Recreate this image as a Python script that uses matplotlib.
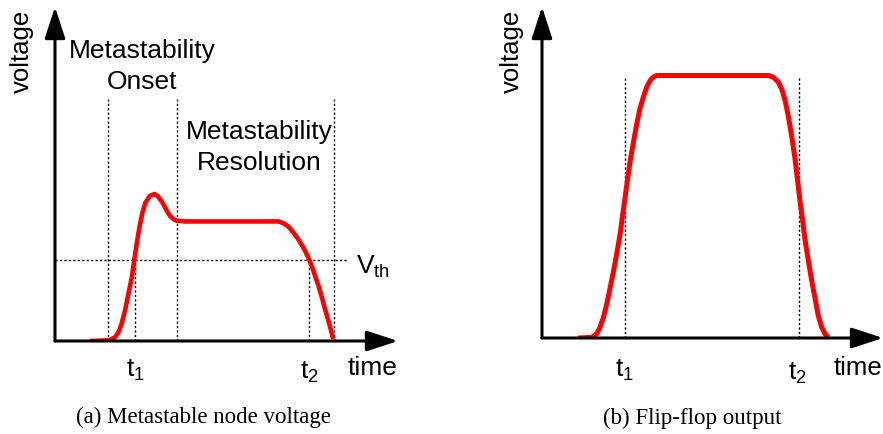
import matplotlib
matplotlib.use("Agg")
import matplotlib.pyplot as plt

# ---------------- data ----------------
# (a) metastable node voltage
left_t = [1.02, 1.60, 1.65, 1.75, 1.85, 1.94, 2.04, 2.14, 2.24, 2.31, 2.38, 2.46,
          2.55, 2.64, 2.77, 2.90, 3.01, 3.13, 3.26, 3.35, 3.45, 3.55, 3.79,
          6.27, 6.51, 6.66, 6.80, 6.95, 7.09, 7.24, 7.38, 7.48, 7.58, 7.68, 7.78,
          7.87, 7.97, 8.05, 8.11]
left_v = [0.00, 0.02, 0.06, 0.11, 0.26, 0.51, 0.91, 1.41, 1.91, 2.41, 2.90, 3.40,
          3.85, 4.15, 4.35, 4.40, 4.32, 4.15, 3.90, 3.75, 3.65, 3.60, 3.58,
          3.58, 3.58, 3.53, 3.43, 3.25, 3.05, 2.80, 2.51, 2.26, 1.96, 1.66, 1.31,
          0.96, 0.61, 0.31, 0.06]
left_regions = [1.55, 3.56, 8.12]      # onset start, onset end / resolution start, resolution end
left_region_top = 7.25
left_t1, left_t2 = 2.33, 7.41
vth = 2.43
vth_end = 8.54

# (b) flip-flop output
right_t = [1.06, 1.46, 1.60, 1.70, 1.80, 1.90, 1.99, 2.09, 2.19, 2.29, 2.35, 2.43,
           2.51, 2.58, 2.68, 2.78, 2.87, 2.97, 3.07, 3.17, 3.26, 3.36, 3.61,
           6.39, 6.64, 6.78, 6.93, 7.03, 7.13, 7.22, 7.32, 7.42, 7.49, 7.57, 7.65,
           7.71, 7.81, 7.91, 8.01, 8.10, 8.20, 8.30, 8.40]
right_v = [0.00, 0.02, 0.12, 0.32, 0.62, 1.03, 1.48, 1.98, 2.54, 3.14, 3.60, 4.20,
           4.80, 5.31, 5.91, 6.47, 6.92, 7.27, 7.58, 7.78, 7.88, 7.93, 7.93,
           7.93, 7.93, 7.88, 7.73, 7.52, 7.17, 6.72, 6.11, 5.41, 4.80, 4.10, 3.50,
           2.99, 2.34, 1.73, 1.18, 0.68, 0.33, 0.12, 0.02]
right_t1, right_t2 = 2.42, 7.55
right_marker_top = 7.85

# ---------------- drawing ----------------
W, H = 883, 435
fig = plt.figure(figsize=(W / 100, H / 100), dpi=100)

SANS = "Liberation Sans"
SERIF = "Liberation Serif"
plt.rcParams["font.family"] = SANS
plt.rcParams["mathtext.default"] = "regular"

dot = (0, (1.6, 1.6))
dot_kw = dict(color="black", lw=1.0, linestyle=dot)
red_kw = dict(color="#ff0000", lw=3.3, solid_capstyle="butt", solid_joinstyle="round")


def make_axes(x0, y0, x1, y1):
    # x0, x1 pixel columns; y0 = origin row, y1 = arrow tip row
    ax = fig.add_axes([x0 / W, (H - y0) / H, (x1 - x0) / W, (y0 - y1) / H])
    ax.set_xlim(0, 10)
    ax.set_ylim(0, 10)
    ax.axis("off")
    arrow = dict(arrowstyle="-|>,head_length=0.55,head_width=0.18", lw=2.2,
                 color="black", mutation_scale=35, shrinkA=0, shrinkB=0)
    ax.annotate("", xy=(0, 1), xytext=(0, 0), xycoords="axes fraction",
                textcoords="axes fraction", arrowprops=arrow, annotation_clip=False)
    ax.annotate("", xy=(1, 0), xytext=(0, 0), xycoords="axes fraction",
                textcoords="axes fraction", arrowprops=arrow, annotation_clip=False)
    return ax


# ---- left panel ----
axL = make_axes(55, 342, 398, 8)
for x in left_regions:
    axL.plot([x, x], [0, left_region_top], **dot_kw)
axL.plot([0, vth_end], [vth, vth], **dot_kw)
for x in (left_t1, left_t2):
    axL.plot([x, x], [0, vth], **dot_kw)
axL.plot(left_t, left_v, **red_kw)

tkw = dict(clip_on=False)
axL.text(-0.96, 8.71, "voltage", rotation=90, ha="center", va="center", fontsize=18.5, **tkw)
axL.text(2.54, 8.50, "Metastability", ha="center", va="baseline", fontsize=19, **tkw)
axL.text(2.54, 7.57, "Onset", ha="center", va="baseline", fontsize=19, **tkw)
axL.text(5.95, 6.08, "Metastability", ha="center", va="baseline", fontsize=19, **tkw)
axL.text(5.95, 5.15, "Resolution", ha="center", va="baseline", fontsize=19, **tkw)
axL.text(8.78, 2.04, r"$V_{th}$", ha="left", va="baseline", fontsize=19, **tkw)
axL.text(2.36, -1.05, r"$t_1$", ha="center", va="baseline", fontsize=19, **tkw)
axL.text(7.43, -1.11, r"$t_2$", ha="center", va="baseline", fontsize=19, **tkw)
axL.text(8.54, -0.99, "time", ha="left", va="baseline", fontsize=19, **tkw)
axL.text(4.34, -2.43, "(a) Metastable node voltage", ha="center", va="baseline",
         fontsize=16.5, family=SERIF, **tkw)

# ---- right panel ----
axR = make_axes(542, 339, 883, 8)
for x in (right_t1, right_t2):
    axR.plot([x, x], [0, right_marker_top], **dot_kw)
axR.plot(right_t, right_v, **dict(red_kw, lw=3.6))

axR.text(-0.88, 8.70, "voltage", rotation=90, ha="center", va="center", fontsize=18.5, **tkw)
axR.text(2.43, -1.15, r"$t_1$", ha="center", va="baseline", fontsize=19, **tkw)
axR.text(7.48, -1.24, r"$t_2$", ha="center", va="baseline", fontsize=19, **tkw)
axR.text(8.54, -1.09, "time", ha="left", va="baseline", fontsize=18.5, **tkw)
axR.text(4.40, -2.57, "(b) Flip-flop output", ha="center", va="baseline",
         fontsize=16.5, family=SERIF, **tkw)

fig.savefig("out.png", dpi=100)
